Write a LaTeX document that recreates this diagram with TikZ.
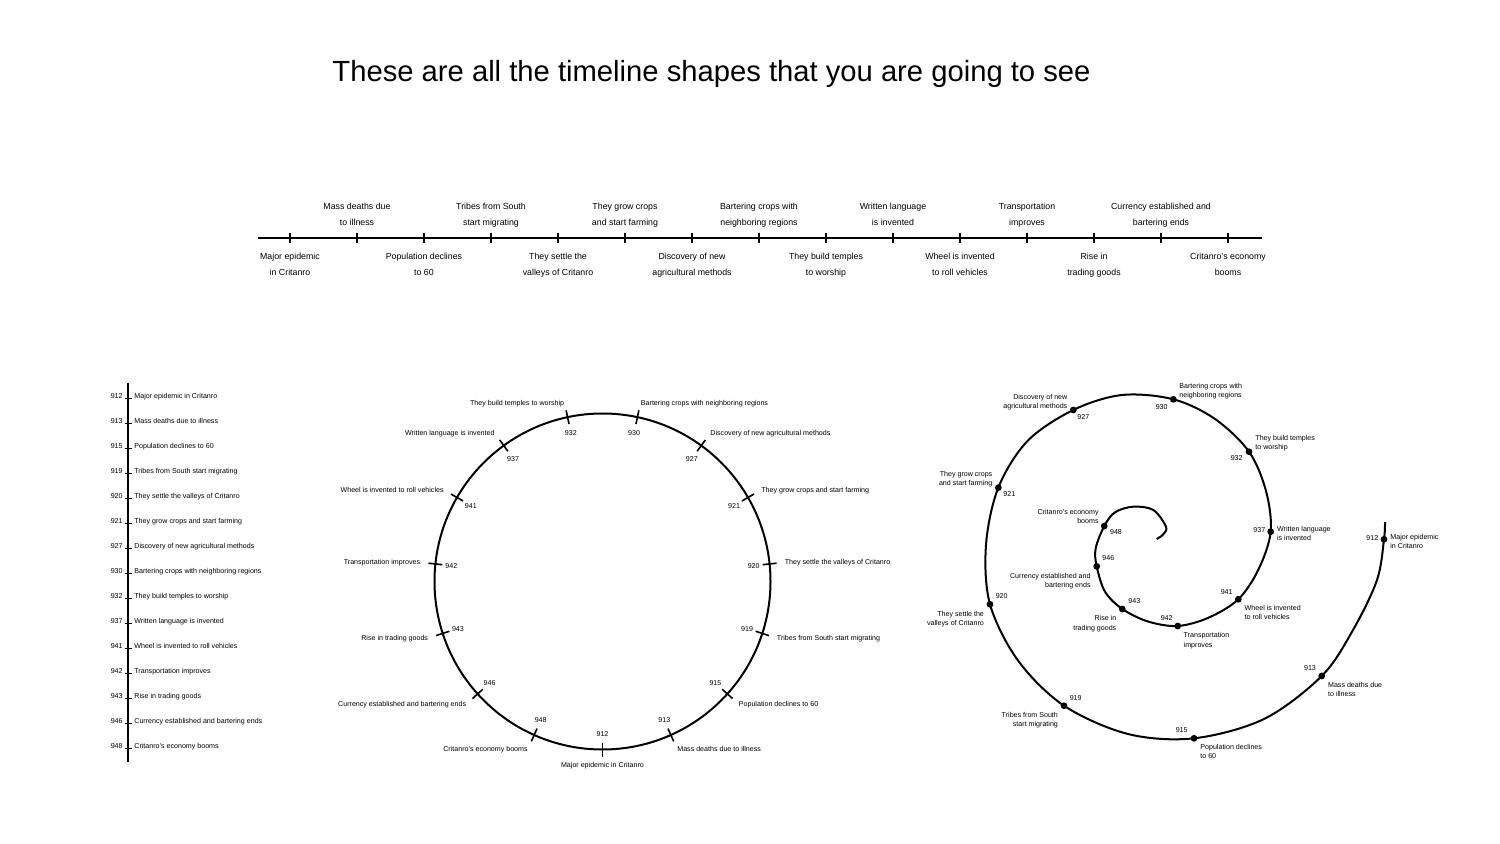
\documentclass[tikz,border=0pt]{standalone}
\usepackage{fontspec}
\setmainfont{Liberation Sans}
\usetikzlibrary{positioning,calc}
\tikzset{
  axis/.style={line width=1.4pt,black},
  ring/.style={line width=1pt,black},
  tck/.style={line width=.8pt,black},
  dotm/.style={circle,fill=black,inner sep=1.2pt},
  hlab/.style={font=\fontsize{4.4}{8}\selectfont,align=center,inner sep=0pt,text depth=.3pt},
  lab/.style={font=\fontsize{3.55}{4.6}\selectfont,inner sep=0pt,text height=2.55pt,text depth=0pt},
  mlab/.style={font=\fontsize{3.55}{4.6}\selectfont,inner sep=0pt,text depth=0pt},
  labl/.style={mlab,align=left,anchor=west},
  labr/.style={mlab,align=right,anchor=east}
}
\begin{document}
\begin{tikzpicture}[x=0.5pt,y=-0.5pt]
  \useasboundingbox (0,0) rectangle (1500,844);
  \node[font=\fontsize{14.6}{17}\selectfont] (title) at (711.5,74)
    {These are all the timeline shapes that you are going to see};

  % straight timeline
  \coordinate (hl) at (258,238);
  \coordinate (hr) at (1262,238);
  \draw[axis] (hl) -- (hr);
  \foreach \k in {0,...,14}
    \draw[tck,line width=1pt] (290+67*\k,233) -- (290+67*\k,243);
  \foreach \k/\txt in {0/{Major epidemic\\in Critanro},2/{Population declines\\to 60},
      4/{They settle the\\valleys of Critanro},6/{Discovery of new\\agricultural methods},
      8/{They build temples\\to worship},10/{Wheel is invented\\to roll vehicles},
      12/{Rise in\\trading goods},14/{Critanro's economy\\booms}}
    \node[hlab] (hb\k) at (290+67*\k,264.5) {\txt};
  \foreach \k/\txt in {1/{Mass deaths due\\to illness},3/{Tribes from South\\start migrating},
      5/{They grow crops\\and start farming},7/{Bartering crops with\\neighboring regions},
      9/{Written language\\is invented},11/{Transportation\\improves},
      13/{Currency established and\\bartering ends}}
    \node[hlab] (ha\k) at (290+67*\k,215) {\txt};

  % vertical timeline
  \draw[axis] (128,383) -- (128,762);
  \foreach \yr/\txt [count=\i from 0] in {912/Major epidemic in Critanro,
      913/Mass deaths due to illness,915/Population declines to 60,
      919/Tribes from South start migrating,920/They settle the valleys of Critanro,
      921/They grow crops and start farming,927/Discovery of new agricultural methods,
      930/Bartering crops with neighboring regions,932/They build temples to worship,
      937/Written language is invented,941/Wheel is invented to roll vehicles,
      942/Transportation improves,943/Rise in trading goods,
      946/Currency established and bartering ends,948/Critanro's economy booms}{
    \draw[tck] (124.5,398.5+25*\i) -- (131.5,398.5+25*\i);
    \node[lab,anchor=base east] (vy\yr) at (123,398.5+25*\i) {\yr};
    \node[lab,anchor=base west] (vl\yr) at (134,398.5+25*\i) {\txt};
  }

  % circle timeline
  \coordinate (cc) at (602.5,581.5);
  \draw[ring] (cc) circle[radius=84pt];
  \foreach \yr/\txt/\anc [count=\i from 0, evaluate=\i as \a using -90+24*\i] in {
      912/Major epidemic in Critanro/center,913/Mass deaths due to illness/west,
      915/Population declines to 60/west,919/Tribes from South start migrating/west,
      920/They settle the valleys of Critanro/west,921/They grow crops and start farming/west,
      927/Discovery of new agricultural methods/west,930/Bartering crops with neighboring regions/west,
      932/They build temples to worship/east,937/Written language is invented/east,
      941/Wheel is invented to roll vehicles/east,942/Transportation improves/east,
      943/Rise in trading goods/east,946/Currency established and bartering ends/east,
      948/Critanro's economy booms/east}{
    \draw[tck] ($(cc)+(\a:80.5pt)$) -- ($(cc)+(\a:87.5pt)$);
    \node[lab] (cy\yr) at ($(cc)+(\a:76pt)$) {\yr};
    \node[lab,anchor=\anc] (cl\yr) at ($(cc)+(\a:91.5pt)$) {\txt};
  }

  % spiral timeline
  \coordinate (s0) at (1385,522);
  \coordinate (s912) at (1384,539.3);
  \coordinate (s913) at (1321.7,676);
  \coordinate (s915) at (1194,738.3);
  \coordinate (s919) at (1064,705.7);
  \coordinate (s920) at (990,604.3);
  \coordinate (s921) at (998.3,487.7);
  \coordinate (s927) at (1073.3,410);
  \coordinate (s930) at (1173.3,399.3);
  \coordinate (s932) at (1249,451.7);
  \coordinate (s937) at (1270.7,531.7);
  \coordinate (s941) at (1238.3,599.3);
  \coordinate (s942) at (1177.7,626);
  \coordinate (s943) at (1122.3,609);
  \coordinate (s946) at (1096.7,566.3);
  \coordinate (s948) at (1104.3,526);
  \coordinate (s1) at (1156.7,539);
  \draw[ring] plot[smooth,tension=.55] coordinates {(s0) (s912) (1377,580) (1353,630) (s913)
    (1264,719) (s915) (1128,734) (s919) (1018,660.5) (s920) (986,545) (s921) (1027.5,441)
    (s927) (1122,395) (s930) (1215,419) (s932) (1266,491) (s937) (1258.5,569.4) (s941)
    (1208.5,617.7) (s942) (1148,621.5) (s943) (1105,591.7) (s946) (1095.7,548.3) (s948)
    (1115,512.3) (1133.3,506.7) (1153.3,510) (1166,526.7) (1163.3,534.3) (s1)};
  \foreach \yr in {912,913,915,919,920,921,927,930,932,937,941,942,943,946,948}
    \node[dotm] (d\yr) at (s\yr) {};

  \node[lab] (sy912) at (1372.3,537.7) {912};
  \node[labl] (sl912) at (1390,541.7) {Major epidemic\\in Critanro};
  \node[lab] (sy913) at (1310,667.7) {913};
  \node[labl] (sl913) at (1327.7,689.7) {Mass deaths due\\to illness};
  \node[lab] (sy915) at (1181.7,730) {915};
  \node[labl] (sl915) at (1200,751.3) {Population declines\\to 60};
  \node[lab] (sy919) at (1075.7,697.7) {919};
  \node[labr] (sl919) at (1058.3,719.7) {Tribes from South\\start migrating};
  \node[lab] (sy920) at (1001.7,596) {920};
  \node[labr] (sl920) at (984.3,618.3) {They settle the\\valleys of Critanro};
  \node[lab] (sy921) at (1009.3,494) {921};
  \node[labr] (sl921) at (992.7,478.3) {They grow crops\\and start farming};
  \node[lab] (sy927) at (1083.3,416.7) {927};
  \node[labr] (sl927) at (1067.7,401.3) {Discovery of new\\agricultural methods};
  \node[lab] (sy930) at (1161.7,406.7) {930};
  \node[labl] (sl930) at (1179,390.8) {Bartering crops with\\neighboring regions};
  \node[lab] (sy932) at (1236.7,458.3) {932};
  \node[labl] (sl932) at (1255,442.2) {They build temples\\to worship};
  \node[lab] (sy937) at (1259.3,530) {937};
  \node[labl] (sl937) at (1276.7,533.8) {Written language\\is invented};
  \node[lab] (sy941) at (1226.7,591.7) {941};
  \node[labl] (sl941) at (1244.3,612.8) {Wheel is invented\\to roll vehicles};
  \node[lab] (sy942) at (1166.7,618.3) {942};
  \node[labl] (sl942) at (1183.3,640) {Transportation\\improves};
  \node[lab] (sy943) at (1134.3,601) {943};
  \node[labr] (sl943) at (1116.7,623) {Rise in\\trading goods};
  \node[lab] (sy946) at (1108.3,558.3) {946};
  \node[labr] (sl946) at (1091,580.5) {Currency established and\\bartering ends};
  \node[lab] (sy948) at (1116,532.3) {948};
  \node[labr] (sl948) at (1099,516.7) {Critanro's economy\\booms};
\end{tikzpicture}
\end{document}
